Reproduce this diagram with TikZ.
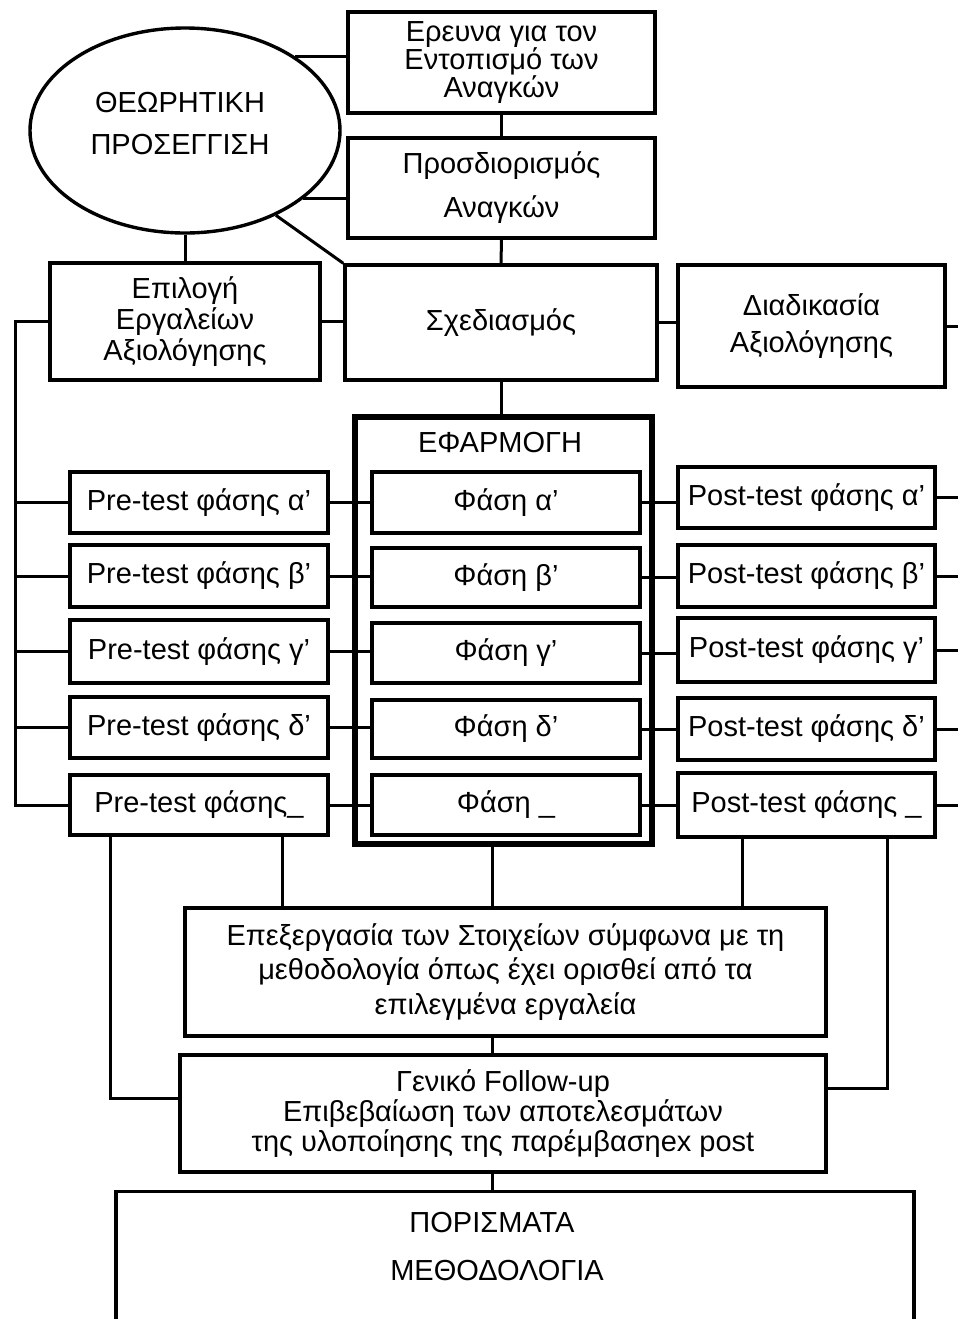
\documentclass[tikz,border=0pt]{standalone}
\usepackage{fontspec}
\setmainfont{Liberation Sans}
\usetikzlibrary{shapes.geometric}
\tikzset{
  box/.style={draw, rectangle, line width=1.7pt, inner sep=0pt, align=center},
  lsp/.style={font=\fontsize{14.5pt}{#1}\selectfont},
  conn/.style={line width=1.5pt},
  frame/.style={draw, rectangle, line width=2.8pt, inner sep=0pt},
}
\begin{document}
\begin{tikzpicture}[x=0.5pt,y=-0.5pt]
\useasboundingbox (0,0) rectangle (958,1319);
\fill[white] (0,0) rectangle (958,1319);
\clip (0,0) rectangle (958,1319);

% top
\node[ellipse, draw, line width=1.7pt, inner sep=0pt, minimum width=155pt, minimum height=102.5pt] (ell) at (185,130.5) {};
\node[lsp=21pt, align=center] (elltxt) at (180,124) {ΘΕΩΡΗΤΙΚΗ\\ΠΡΟΣΕΓΓΙΣΗ};

\node[box, lsp=14pt, minimum width=153.5pt, minimum height=50.5pt] (erevna) at (501.5,62.5) {Ερευνα για τον\\Εντοπισμό των\\Αναγκών};
\node[box, lsp=22pt, minimum width=153.5pt, minimum height=50pt] (prosd) at (501.5,188) {Προσδιορισμός\\Αναγκών};
\node[box, lsp=16pt, minimum width=156pt, minimum height=57.5pt] (sxed) at (501,322.5) {Σχεδιασμός};
\node[box, lsp=15.5pt, minimum width=135pt, minimum height=58.5pt] (epil) at (185,321.5) {Επιλογή\\Εργαλείων\\Αξιολόγησης};
\node[box, lsp=18.5pt, minimum width=133.5pt, minimum height=61pt] (diad) at (811.5,326) {Διαδικασία\\Αξιολόγησης};

% EFARMOGH frame
\node[frame, minimum width=148.5pt, minimum height=213.5pt] (efar) at (503.5,630.5) {};
\node[lsp=16pt] (eftitle) at (500,443) {ΕΦΑΡΜΟΓΗ};

% phases
\node[box, lsp=16pt, minimum width=134pt, minimum height=30.5pt] (ph1) at (506,502.5) {Φάση α’};
\node[box, lsp=16pt, minimum width=134pt, minimum height=29.5pt] (ph2) at (506,577.5) {Φάση β’};
\node[box, lsp=16pt, minimum width=134pt, minimum height=30pt] (ph3) at (506,653) {Φάση γ’};
\node[box, lsp=16pt, minimum width=134pt, minimum height=29pt] (ph4) at (506,729) {Φάση δ’};
\node[box, lsp=16pt, minimum width=134pt, minimum height=30pt] (ph5) at (506,805) {Φάση \_};

% pre-tests
\node[box, lsp=16pt, minimum width=129pt, minimum height=30.5pt] (pre1) at (199,502.5) {Pre-test φάσης α’};
\node[box, lsp=16pt, minimum width=129pt, minimum height=31pt] (pre2) at (199,576) {Pre-test φάσης β’};
\node[box, lsp=16pt, minimum width=129pt, minimum height=31.5pt] (pre3) at (199,651.5) {Pre-test φάσης γ’};
\node[box, lsp=16pt, minimum width=129pt, minimum height=30.5pt] (pre4) at (199,727.5) {Pre-test φάσης δ’};
\node[box, lsp=16pt, minimum width=129pt, minimum height=30pt] (pre5) at (199,805) {Pre-test φάσης\_};

% post-tests
\node[box, lsp=16pt, minimum width=128.5pt, minimum height=30.5pt] (post1) at (806.5,497.5) {Post-test φάσης α’};
\node[box, lsp=16pt, minimum width=128.5pt, minimum height=31pt] (post2) at (806.5,576) {Post-test φάσης β’};
\node[box, lsp=16pt, minimum width=128.5pt, minimum height=32pt] (post3) at (806.5,650) {Post-test φάσης γ’};
\node[box, lsp=16pt, minimum width=128.5pt, minimum height=31pt] (post4) at (806.5,729) {Post-test φάσης δ’};
\node[box, lsp=16pt, minimum width=128.5pt, minimum height=32pt] (post5) at (806.5,805) {Post-test φάσης \_};

% bottom
\node[box, lsp=17.25pt, minimum width=320.5pt, minimum height=64pt] (epex) at (505.5,972) {Επεξεργασία των Στοιχείων σύμφωνα με τη\\μεθοδολογία όπως έχει ορισθεί από τα\\επιλεγμένα εργαλεία};
\node[box, lsp=15pt, minimum width=323pt, minimum height=58.5pt] (follow) at (503,1113.5) {Γενικό Follow-up\\Επιβεβαίωση των αποτελεσμάτων\\της υλοποίησης της παρέμβασηex post};
\node[box, minimum width=399pt, minimum height=75pt, anchor=north] (por) at (515,1190) {};
\node[lsp=16pt] (portxt1) at (492,1223) {ΠΟΡΙΣΜΑΤΑ};
\node[lsp=16pt] (portxt2) at (497,1270) {ΜΕΘΟΔΟΛΟΓΙΑ};

% helper coordinates
\coordinate (lbus) at (15,0);
\coordinate (redge) at (962,0);
\coordinate (xL) at (110,0);
\coordinate (xA) at (282,0);
\coordinate (xM) at (492,0);
\coordinate (xB) at (742,0);
\coordinate (xR) at (887,0);
\coordinate (yL) at (0,1098);
\coordinate (yR) at (0,1088);

% top connectors
\draw[conn] (ell.34) -- (ell.34 -| erevna.west);
\draw[conn] (ell.-30) -- (ell.-30 -| prosd.west);
\draw[conn] (ell.-43) -- (sxed.north west);
\draw[conn] (ell.south) -- (epil.north);
\draw[conn] (erevna.south) -- (prosd.north);
\draw[conn] (prosd.south) -- (sxed.north);
\draw[conn] (sxed.south) -- (sxed.south |- efar.north);
\draw[conn] (epil.east) -- (epil.east -| sxed.west);
\draw[conn] (sxed.east) -- (sxed.east -| diad.west);
\draw[conn] (diad.east) -- (diad.east -| redge);

% left bus
\draw[conn] (epil.west) -- (epil.west -| lbus) -- (pre5.west -| lbus) -- (pre5.west);
\foreach \i in {1,2,3,4} {
  \draw[conn] (pre\i.west) -- (pre\i.west -| lbus);
}
% pre -> phase -> post -> right edge
\foreach \i in {1,2,3,4,5} {
  \draw[conn] (pre\i.east) -- (pre\i.east -| ph\i.west);
  \draw[conn] (ph\i.east) -- (ph\i.east -| post\i.west);
  \draw[conn] (post\i.east) -- (post\i.east -| redge);
}

% bottom connectors
\draw[conn] (pre5.south -| xL) |- (follow.west |- yL);
\draw[conn] (post5.south -| xR) |- (follow.east |- yR);
\draw[conn] (pre5.south -| xA) -- (epex.north -| xA);
\draw[conn] (efar.south -| xM) -- (epex.north -| xM);
\draw[conn] (post5.south -| xB) -- (epex.north -| xB);
\draw[conn] (epex.south -| xM) -- (follow.north -| xM);
\draw[conn] (follow.south -| xM) -- (por.north -| xM);
\end{tikzpicture}
\end{document}
